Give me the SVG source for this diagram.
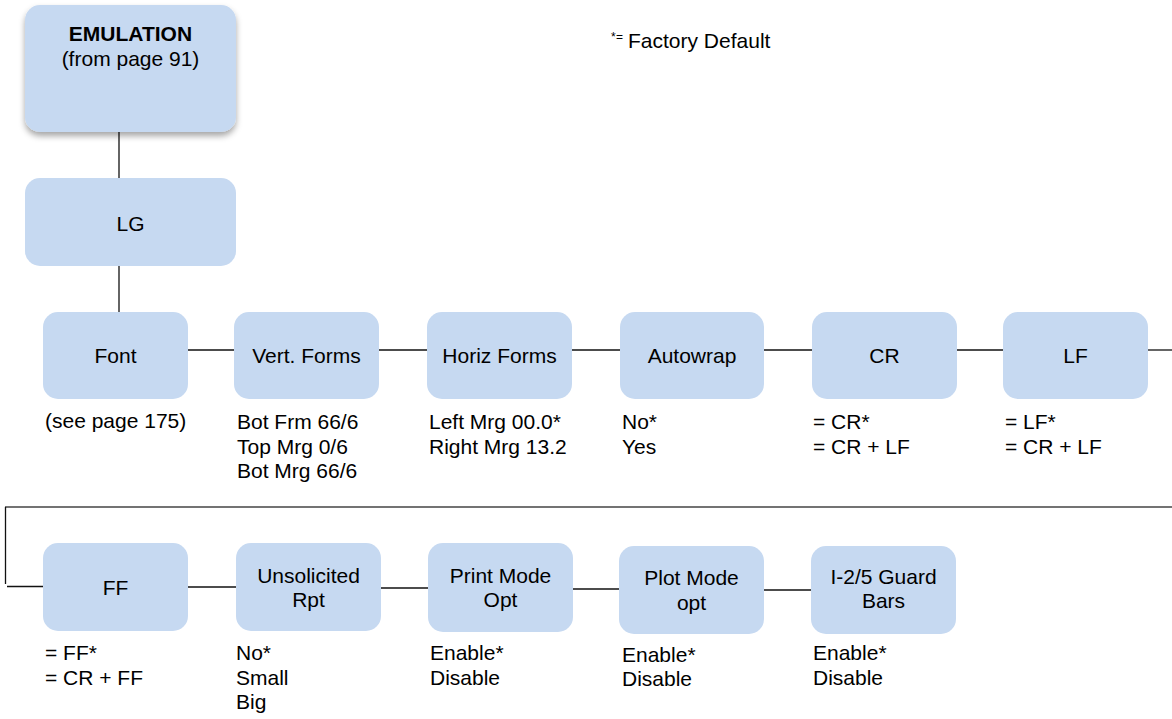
<svg xmlns="http://www.w3.org/2000/svg" width="1172" height="719" viewBox="0 0 1172 719">
<defs>
<style>
.box{fill:#c6d9f1;}
.t{font-family:"Liberation Sans",Arial,sans-serif;font-size:21px;fill:#000;}
.c{text-anchor:middle;}
.b{font-weight:bold;}
.ln{stroke:#111;stroke-width:1.3;fill:none;}
</style>
<filter id="sh" x="-20%" y="-20%" width="140%" height="150%">
<feDropShadow dx="0" dy="4" stdDeviation="3" flood-color="#000" flood-opacity="0.35"/>
</filter>
</defs>
<rect width="1172" height="719" fill="#fff"/>
<g id="connectors">
<line class="ln" x1="119" y1="132" x2="119" y2="179"/>
<line class="ln" x1="119" y1="266" x2="119" y2="312"/>
<line class="ln" x1="188" y1="350" x2="234" y2="350"/>
<line class="ln" x1="379" y1="350" x2="427" y2="350"/>
<line class="ln" x1="572" y1="350" x2="620" y2="350"/>
<line class="ln" x1="764" y1="350" x2="812" y2="350"/>
<line class="ln" x1="957" y1="350" x2="1003" y2="350"/>
<line class="ln" x1="1148" y1="350" x2="1172" y2="350"/>
<line x1="5" y1="507" x2="1172" y2="507" stroke="#444" stroke-width="1.6"/>
<line class="ln" x1="5.5" y1="507" x2="5.5" y2="584"/>
<line class="ln" x1="7" y1="586.5" x2="43" y2="586.5"/>
<line class="ln" x1="188" y1="587" x2="236" y2="587"/>
<line class="ln" x1="381" y1="588" x2="428" y2="588"/>
<line class="ln" x1="573" y1="589" x2="619" y2="589"/>
<line class="ln" x1="764" y1="590" x2="811" y2="590"/>
</g>
<g id="legend">
<text class="t" x="611" y="41" style="font-size:12px">*</text>
<text class="t" x="616" y="41" style="font-size:12px">=</text>
<text class="t" x="628" y="48">Factory Default</text>
</g>
<g id="emulation">
<rect class="box" x="25" y="5" width="211" height="127" rx="15" filter="url(#sh)"/>
<text class="t c b" x="130.5" y="41">EMULATION</text>
<text class="t c" x="130.5" y="66">(from page 91)</text>
</g>
<g id="lg">
<rect class="box" x="25" y="178" width="211" height="88" rx="15"/>
<text class="t c" x="130.5" y="231">LG</text>
</g>
<g id="font">
<rect class="box" x="43" y="312" width="145" height="87" rx="15"/>
<text class="t c" x="115.5" y="363">Font</text>
<text class="t" x="45" y="428">(see page 175)</text>
</g>
<g id="vertforms">
<rect class="box" x="234" y="312" width="145" height="87" rx="15"/>
<text class="t c" x="306.5" y="363">Vert. Forms</text>
<text class="t" x="237" y="429">Bot Frm 66/6</text>
<text class="t" x="237" y="454">Top Mrg 0/6</text>
<text class="t" x="237" y="478">Bot Mrg 66/6</text>
</g>
<g id="horizforms">
<rect class="box" x="427" y="312" width="145" height="87" rx="15"/>
<text class="t c" x="499.5" y="363">Horiz Forms</text>
<text class="t" x="429" y="429">Left Mrg 00.0*</text>
<text class="t" x="429" y="454">Right Mrg 13.2</text>
</g>
<g id="autowrap">
<rect class="box" x="620" y="312" width="144" height="87" rx="15"/>
<text class="t c" x="692" y="363">Autowrap</text>
<text class="t" x="622" y="429">No*</text>
<text class="t" x="622" y="454">Yes</text>
</g>
<g id="cr">
<rect class="box" x="812" y="312" width="145" height="87" rx="15"/>
<text class="t c" x="884.5" y="363">CR</text>
<text class="t" x="813" y="429">= CR*</text>
<text class="t" x="813" y="454">= CR + LF</text>
</g>
<g id="lf">
<rect class="box" x="1003" y="312" width="145" height="87" rx="15"/>
<text class="t c" x="1075.5" y="363">LF</text>
<text class="t" x="1005" y="429">= LF*</text>
<text class="t" x="1005" y="454">= CR + LF</text>
</g>
<g id="ff">
<rect class="box" x="43" y="543" width="145" height="88" rx="15"/>
<text class="t c" x="115.5" y="595">FF</text>
<text class="t" x="45" y="660">= FF*</text>
<text class="t" x="45" y="685">= CR + FF</text>
</g>
<g id="unsolicited">
<rect class="box" x="236" y="543" width="145" height="88" rx="15"/>
<text class="t c" x="308.5" y="583">Unsolicited</text>
<text class="t c" x="308.5" y="607">Rpt</text>
<text class="t" x="236" y="660">No*</text>
<text class="t" x="236" y="685">Small</text>
<text class="t" x="236" y="709">Big</text>
</g>
<g id="printmode">
<rect class="box" x="428" y="543" width="145" height="89" rx="15"/>
<text class="t c" x="500.5" y="583">Print Mode</text>
<text class="t c" x="500.5" y="607">Opt</text>
<text class="t" x="430" y="660">Enable*</text>
<text class="t" x="430" y="685">Disable</text>
</g>
<g id="plotmode">
<rect class="box" x="619" y="546" width="145" height="88" rx="15"/>
<text class="t c" x="691.5" y="585">Plot Mode</text>
<text class="t c" x="691.5" y="610">opt</text>
<text class="t" x="622" y="662">Enable*</text>
<text class="t" x="622" y="686">Disable</text>
</g>
<g id="guardbars">
<rect class="box" x="811" y="546" width="145" height="88" rx="15"/>
<text class="t c" x="883.5" y="584">I-2/5 Guard</text>
<text class="t c" x="883.5" y="608">Bars</text>
<text class="t" x="813" y="660">Enable*</text>
<text class="t" x="813" y="685">Disable</text>
</g>
</svg>
